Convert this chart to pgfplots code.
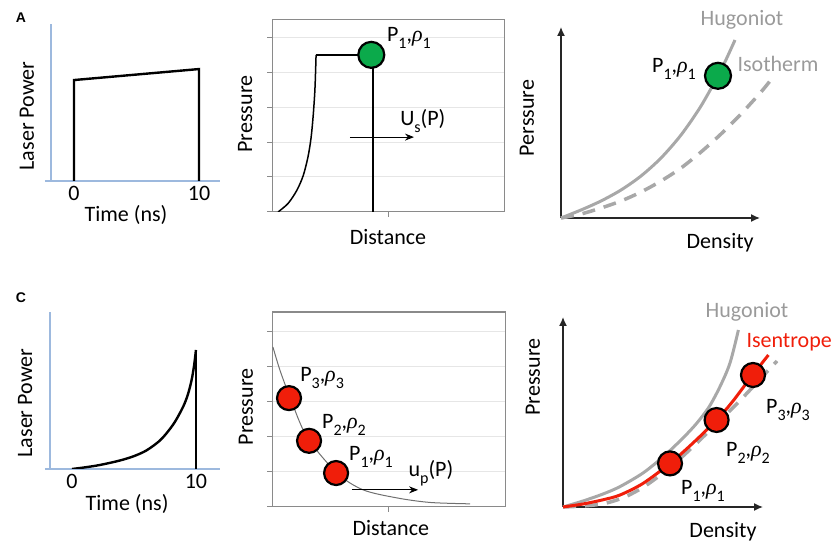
\documentclass[border=0pt]{standalone}
\usepackage{pgfplots}
\pgfplotsset{compat=1.18}
\usepackage{fontspec}
\setmainfont{Carlito}
\newfontfamily\grk{Liberation Serif}
\newfontfamily\hdr{Liberation Sans}
\usetikzlibrary{arrows.meta}

\definecolor{axblue}{HTML}{9DB9DE}
\definecolor{hgray}{HTML}{A8A8A8}
\definecolor{labgray}{HTML}{9A9A9A}
\definecolor{framegray}{HTML}{8A8A8A}
\definecolor{gridgray}{HTML}{E6E6E6}
\definecolor{curvegray}{HTML}{707070}
\definecolor{ptgreen}{HTML}{0BAA4B}
\definecolor{ptred}{HTML}{F01E0A}

\newcommand{\lbl}{\fontsize{22}{26}\selectfont}
\newcommand{\sub}[1]{\raisebox{-0.3em}{\fontsize{16}{16}\selectfont #1}}
\newcommand{\Prho}[1]{P\sub{#1},{\grk\itshape ρ}\sub{#1}}

\pgfplotsset{
  base/.style={scale only axis, anchor=south west, clip mode=individual,
    label style={font=\lbl}, tick label style={font=\lbl}},
  pulse/.style={base, width=175pt, height=157pt, ymin=0, ymax=10,
    axis line style={draw=none}, ytick=\empty, xtick={0,10}, xticklabels={0,10},
    major tick length=0pt, xticklabel style={anchor=center, yshift=-12pt}},
  profile/.style={base, xmin=0, xmax=10, ymin=0,
    axis line style={framegray, line width=1pt},
    tick style={framegray, line width=1pt}, major tick length=5pt,
    tick align=outside, tick pos=left, xtick={5}, ytick={0,...,5},
    xticklabels={}, yticklabels={},
    ymajorgrids, major grid style={gridgray, line width=1pt}},
  eos/.style={base, xmin=0, ymin=0, axis lines*=left,
    axis line style={black!85, line width=1.4pt, -{Latex[length=9pt,width=8pt]}},
    xtick=\empty, ytick=\empty, clip=false},
  marker/.style={only marks, mark=*, mark size=#1,
    mark options={draw=black, line width=2.2pt}},
}

\begin{document}
\begin{tikzpicture}

% ---------- A: constant-power drive ----------
\node[font={\hdr\bfseries\fontsize{14}{14}\selectfont}] at (21pt,528pt) {A};

\begin{axis}[pulse, at={(45pt,365pt)}, xmin=-2.32, xmax=11.68,
  xlabel={Time (ns)}, ylabel={Laser Power},
  xlabel style={at={(axis description cs:0.463,-0.217)}, anchor=center},
  ylabel style={at={(axis description cs:-0.103,0.414)}, anchor=center}]
  \draw[axblue, line width=1.2pt] (axis cs:-2.32,0) -- (axis cs:11.68,0);
  \draw[axblue, line width=1.2pt] (axis cs:-1.84,0) -- (axis cs:-1.84,10);
  \addplot[black, line width=2.4pt, sharp plot, line join=miter]
    coordinates {(0,0) (0,6.43) (10,7.13) (10,0)};
\end{axis}

\begin{axis}[profile, at={(272pt,334pt)}, width=232pt, height=192pt, ymax=5.486,
  xlabel={Distance}, ylabel={Pressure},
  xlabel style={at={(axis description cs:0.5,-0.13)}, anchor=center},
  ylabel style={at={(axis description cs:-0.116,0.51)}, anchor=center}]
  \addplot[black, line width=1.5pt, smooth] coordinates {
    (0.26,0) (0.70,0.25) (1.08,0.63) (1.35,1.05) (1.55,1.57)
    (1.68,2.10) (1.77,2.71) (1.85,3.50) (1.90,4.49)};
  \addplot[black, line width=1.5pt, sharp plot] coordinates {
    (1.90,4.49) (4.35,4.49) (4.35,0)};
  \draw[-{Stealth[length=9pt,width=7pt]}, line width=1pt]
    (axis cs:3.36,2.14) -- (axis cs:6.12,2.14);
  \node[font=\lbl] at (axis cs:6.5,2.6) {U\sub{s}(P)};
  \addplot[marker=13pt, fill=ptgreen] coordinates {(4.28,4.49)};
  \node[font=\lbl] at (axis cs:5.9,4.97) {\Prho{1}};
\end{axis}

\begin{axis}[eos, at={(561pt,328pt)}, width=199pt, height=191pt,
  xmax=9.95, ymax=9.55,
  xlabel={Density}, ylabel={Perssure},
  xlabel style={at={(axis description cs:0.8,-0.131)}, anchor=center},
  ylabel style={at={(axis description cs:-0.171,0.524)}, anchor=center}]
  % Hugoniot
  \addplot[hgray, line width=3pt, smooth] coordinates {
    (0,0) (1,0.40) (2,0.85) (3,1.40) (4,2.10) (5,3.00) (6,4.15)
    (7,5.60) (8,7.40) (8.7,8.9)};
  % isotherm
  \addplot[hgray, line width=3.5pt, smooth, dash pattern=on 13pt off 9pt] coordinates {
    (0,0) (1,0.20) (2,0.50) (3,0.85) (4,1.30) (5,1.85) (6,2.50)
    (7,3.30) (8,4.20) (9,5.20) (10,6.30) (10.45,6.85)};
  \addplot[marker=13pt, fill=ptgreen] coordinates {(7.85,7.11)};
  \node[font=\lbl, text=labgray] at (axis cs:9.05,9.9) {Hugoniot};
  \node[font=\lbl, text=labgray] at (axis cs:10.85,7.7) {Isotherm};
  \node[font=\lbl] at (axis cs:5.65,7.45) {\Prho{1}};
\end{axis}

% ---------- C: ramped drive ----------
\node[font={\hdr\bfseries\fontsize{14}{14}\selectfont}] at (21pt,248pt) {C};

\begin{axis}[pulse, at={(45pt,77pt)}, xmin=-2.18, xmax=11.94,
  xlabel={Time (ns)}, ylabel={Laser Power},
  xlabel style={at={(axis description cs:0.469,-0.223)}, anchor=center},
  ylabel style={at={(axis description cs:-0.114,0.42)}, anchor=center}]
  \draw[axblue, line width=1.2pt] (axis cs:-2.18,0) -- (axis cs:11.94,0);
  \draw[axblue, line width=1.2pt] (axis cs:-1.77,0) -- (axis cs:-1.77,10);
  \addplot[black, line width=2.4pt, smooth] coordinates {
    (0,0) (1,0.10) (2,0.22) (3,0.38) (4,0.57) (5,0.82) (6,1.18)
    (7,1.75) (7.64,2.29) (8.3,3.0) (8.97,3.97) (9.35,4.75) (9.65,5.67)
    (9.85,6.6) (10,7.58)};
  \addplot[black, line width=2.4pt, sharp plot] coordinates {(10,7.58) (10,0)};
\end{axis}

\begin{axis}[profile, at={(272pt,39pt)}, width=233pt, height=195pt, ymax=5.57,
  xlabel={Distance}, ylabel={Pressure},
  xlabel style={at={(axis description cs:0.51,-0.108)}, anchor=center},
  ylabel style={at={(axis description cs:-0.112,0.513)}, anchor=center}]
  \addplot[curvegray, line width=1pt, smooth] coordinates {
    (0.04,4.57) (0.34,3.91) (0.77,3.14) (1.5,2.0) (2.79,0.97)
    (3.91,0.49) (5.36,0.26) (6.78,0.13) (8.5,0.09)};
  \draw[-{Stealth[length=9pt,width=7pt]}, line width=1pt]
    (axis cs:3.43,0.49) -- (axis cs:6.27,0.49);
  \node[font=\lbl] at (axis cs:6.82,0.97) {u\sub{p}(P)};
  \addplot[marker=12pt, fill=ptred] coordinates {
    (0.73,3.11) (1.59,1.89) (2.75,0.97)};
  \node[font=\lbl] at (axis cs:2.15,3.69) {\Prho{3}};
  \node[font=\lbl] at (axis cs:3.09,2.34) {\Prho{2}};
  \node[font=\lbl] at (axis cs:4.25,1.43) {\Prho{1}};
\end{axis}

\begin{axis}[eos, at={(563pt,39pt)}, width=200pt, height=190pt,
  xmax=10, ymax=9.5,
  xlabel={Density}, ylabel={Pressure},
  xlabel style={at={(axis description cs:0.8,-0.132)}, anchor=center},
  ylabel style={at={(axis description cs:-0.15,0.684)}, anchor=center}]
  % Hugoniot
  \addplot[hgray, line width=3pt, smooth] coordinates {
    (0,0) (1,0.30) (2,0.65) (2.85,1.02) (4,1.70) (5.02,2.52) (6,3.45)
    (6.68,4.18) (7.3,5.0) (7.85,6.02) (8.35,7.2) (8.77,8.85)};
  % isotherm
  \addplot[hgray, line width=3.5pt, smooth, dash pattern=on 13pt off 9pt] coordinates {
    (0,0) (1,0.05) (2,0.16) (3,0.46) (4,0.98) (5,1.70) (6,2.55)
    (7,3.50) (8,4.47) (9,5.48) (10,6.55) (10.7,7.3)};
  % isentrope
  \addplot[ptred, line width=3pt, smooth] coordinates {
    (0,0) (1,0.15) (2,0.36) (2.85,0.60) (4,1.18) (5.35,2.18) (6.5,3.2)
    (7.68,4.35) (8.5,5.3) (9.35,6.43) (10.27,7.6)};
  \addplot[marker=12pt, fill=ptred] coordinates {
    (5.35,2.18) (7.68,4.35) (9.5,6.6)};
  \node[font=\lbl, text=labgray] at (axis cs:9.2,9.75) {Hugoniot};
  \node[font=\lbl, text=ptred, anchor=west] at (axis cs:9.0,8.25) {Isentrope};
  \node[font=\lbl] at (axis cs:11.25,4.85) {\Prho{3}};
  \node[font=\lbl] at (axis cs:9.25,2.7) {\Prho{2}};
  \node[font=\lbl] at (axis cs:7.0,0.8) {\Prho{1}};
\end{axis}

\pgfresetboundingbox
\useasboundingbox (0pt,0pt) rectangle (831pt,546pt);
\end{tikzpicture}
\end{document}
